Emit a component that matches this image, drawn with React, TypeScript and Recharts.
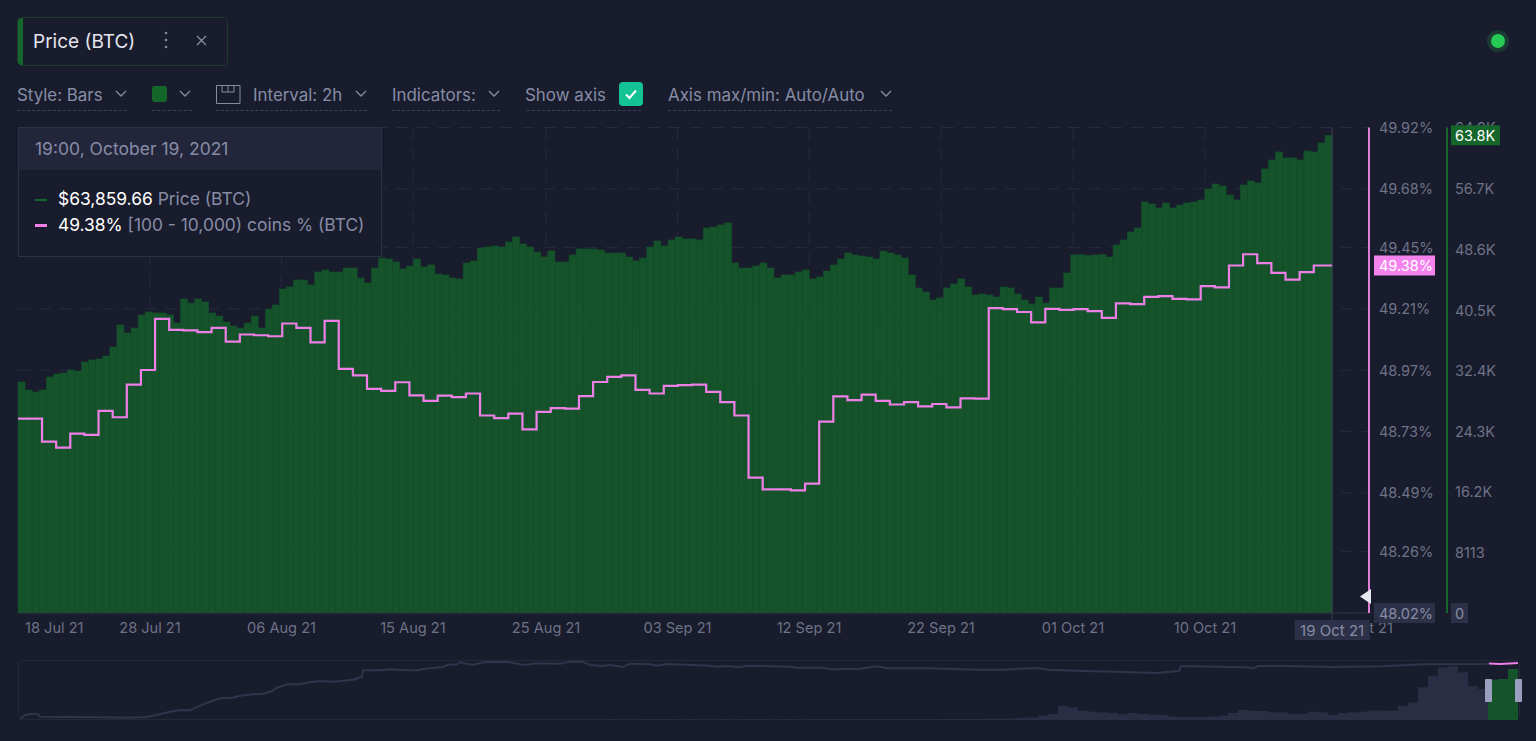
import React from 'react';
import { Bar, CartesianGrid, Cell, ComposedChart, Line, ReferenceLine, XAxis, YAxis } from 'recharts';

// btc price, one value per 12h
const priceValues = [
  30885, 29815, 29548, 29815, 31553, 31954, 32088, 32489, 32355, 33559,
  33826, 33960, 34361, 35564, 38506, 37436, 38105, 39843, 40244, 40110,
  40110, 39843, 38773, 41982, 41447, 41982, 41581, 40110, 39709, 38907,
  38372, 38105, 38773, 39709, 38105, 40645, 41180, 43319, 43586, 44522,
  44522, 43854, 45592, 45859, 45592, 45592, 46127, 46127, 44790, 44121,
  46127, 47464, 47330, 46929, 45993, 46394, 47330, 46260, 46528, 45324,
  45191, 44790, 44656, 46795, 47062, 48801, 48934, 49068, 48934, 49603,
  50271, 49335, 48934, 48266, 47597, 48399, 46929, 46929, 47865, 48667,
  48667, 48667, 48533, 48132, 48132, 48132, 47597, 47062, 47464, 48934,
  49736, 49068, 49870, 50271, 50004, 50004, 49870, 51475, 51608, 51876,
  52143, 46795, 46127, 46127, 46394, 46795, 46127, 44790, 45191, 45191,
  45592, 45859, 44656, 44923, 45725, 46528, 47330, 48132, 47865, 47731,
  47597, 47330, 48399, 48132, 47865, 47464, 45191, 43453, 42918, 41848,
  42116, 43453, 43987, 44656, 43586, 42517, 42650, 42517, 42249, 43586,
  43453, 42650, 41848, 41313, 42249, 41447, 43453, 43453, 45458, 47865,
  47900, 47790, 47865, 47950, 47597, 49202, 49870, 50940, 51475, 54951,
  54683, 54149, 54817, 54149, 54550, 54817, 54951, 55218, 56689, 57357,
  57090, 55887, 55218, 57224, 57758, 57491, 59363, 60566, 61636, 60834,
  60834, 60566, 61769, 61636, 62839, 63859,
];

// [100 - 10,000] coins %, one value per day
const coinsShare = [
  48.781, 48.691, 48.667, 48.722, 48.717, 48.811, 48.786, 48.914, 48.971, 49.171,
  49.128, 49.126, 49.119, 49.136, 49.082, 49.11, 49.107, 49.103, 49.153, 49.136,
  49.079, 49.163, 48.975, 48.95, 48.897, 48.889, 48.923, 48.872, 48.85, 48.871,
  48.865, 48.879, 48.793, 48.783, 48.8, 48.739, 48.807, 48.822, 48.82, 48.869,
  48.924, 48.944, 48.95, 48.893, 48.879, 48.909, 48.912, 48.914, 48.885, 48.845,
  48.793, 48.55, 48.504, 48.504, 48.5, 48.526, 48.769, 48.868, 48.853, 48.875,
  48.85, 48.836, 48.845, 48.829, 48.838, 48.825, 48.86, 48.859, 49.213, 49.209,
  49.198, 49.157, 49.21, 49.206, 49.209, 49.201, 49.175, 49.232, 49.229, 49.257,
  49.26, 49.249, 49.247, 49.299, 49.294, 49.38, 49.424, 49.389, 49.351, 49.325,
  49.354, 49.38,
];

const firstStepDays = 1.7;
const lastDay = 93;

const xTickDays = [0, 9.34, 18.65, 27.95, 37.37, 46.67, 55.98, 65.32, 74.66, 84, 95.1];
const xTickLabels = [
  '18 Jul 21', '28 Jul 21', '06 Aug 21', '15 Aug 21', '25 Aug 21', '03 Sep 21',
  '12 Sep 21', '22 Sep 21', '01 Oct 21', '10 Oct 21', '19 Oct 21',
];
const cursorLabel = '19 Oct 21';

const shareTicks = [48.02, 48.26, 48.49, 48.73, 48.97, 49.21, 49.45, 49.68, 49.92];
const priceTicks = [0, 8113, 16200, 24300, 32400, 40500, 48600, 56700, 64900];
const currentShare = 49.38;
const currentPrice = 63859;

// navigator: history of the share line [slot, value] and of the price bars
const navLine = [
  [0.2, 1], [0.7, 5], [1.5, 6.3], [2, 5.7], [2.2, 3.3], [4.9, 3], [8.2, 2.7], [10.9, 2.3],
  [12.9, 3], [14.2, 5.7], [15.2, 8.3], [16.2, 10], [17.2, 9.7], [18.2, 14.3], [19.2, 18.3],
  [20.2, 21.7], [21.5, 22.3], [22.2, 24.3], [23.5, 25.7], [24.5, 26.3], [25.4, 29], [25.9, 32.3],
  [26.9, 35.7], [28.2, 35.7], [29.2, 37.7], [30.2, 39], [31.5, 38.3], [33.5, 40.3], [34.4, 43],
  [34.5, 49.7], [36.2, 49.7], [37.2, 50.7], [38.5, 50], [39.9, 49.7], [40.5, 51], [42.5, 53],
  [42.9, 55], [43.9, 55.7], [44.2, 57.7], [45.5, 55], [46.5, 57.7], [48.2, 58.3], [49.2, 57.7],
  [50.5, 55], [51.9, 56.7], [54.2, 56.3], [55.2, 58.3], [56.4, 58.3], [57.2, 55], [58.5, 54],
  [59.2, 55], [60.5, 53], [61.2, 56.3], [63.2, 55.7], [63.9, 54.3], [64.9, 56], [69.2, 54.3],
  [69.9, 53.3], [70.9, 54], [72.2, 52.7], [72.9, 54.3], [77.2, 53.3], [77.9, 52.3], [80.5, 52.3],
  [81.4, 50.7], [82.5, 51], [84.2, 51.3], [85.9, 53.7], [86.9, 51.7], [91.2, 51.7], [95.9, 50.3],
  [98.5, 50.3], [101.2, 51.7], [102.1, 51.7], [103.1, 50.3], [106.5, 49], [109.8, 48.3],
  [113.8, 47], [116.1, 49], [116.3, 54], [119.8, 53.3], [122.8, 52.7], [123.6, 51.7], [124, 54],
  [126.5, 54], [131.5, 53], [136.5, 53.7], [140.5, 55.7], [146.5, 56], [147.1, 56.3],
];
const navShareWindow = [[147.1, 56.5], [148.2, 56], [149.2, 56.5], [150, 57]];

const navFirstSlot = 57;
const navPrices = [
  400, 450, 500, 450, 420, 480, 500, 520, 480, 450, 430, 420, 400, 430, 450, 500, 520, 480, 450, 430,
  440, 450, 480, 500, 520, 560, 600, 640, 620, 580, 600, 650, 700, 760, 820, 900, 1000, 1100, 1250, 1400,
  1600, 1750, 1935, 2709, 3096, 5031, 6966, 16641, 14706, 10836, 9675, 8901, 8127, 6579, 8127, 6966,
  6192, 5805, 3870, 3483, 3483, 3483, 3870, 5031, 8127, 11610, 10836, 10449, 8901, 8901, 7353, 7353,
  9675, 8901, 5805, 8127, 8901, 9675, 11223, 11223, 10836, 16641, 20511, 37926, 51471, 61146, 62307,
  55341, 39087, 35991, 46827, 47601, 59211,
];
const navWindowStart = 147;

const priceRows = priceValues.map((price, i) => ({ day: (i + 0.5) / 2, price }));
const shareRows = [
  ...coinsShare.map((share, i) => ({ day: i === 0 ? 0 : firstStepDays + i - 1, share })),
  { day: lastDay, share: coinsShare[coinsShare.length - 1] },
];
const navBarRows = navPrices.map((price, i) => ({ slot: navFirstSlot + i + 0.5, price, index: navFirstSlot + i }));
const navLineRows = navLine.map(([slot, share]) => ({ slot, share }));
const navWindowRows = navShareWindow.map(([slot, share]) => ({ slot, share }));

const FONT = 'Inter, "Noto Sans", sans-serif';
const BG = '#191c2c';
const GREEN = '#15532b';
const GREEN_LINE = '#15662b';
const PINK = '#ee7fe6';
const MUTED = '#6d7288';
const TEXT = '#878ca6';
const BOX = '#2d3148';

const priceLabel = (v: number) => {
  if (v === currentPrice) return '63.8K';
  if (v < 10000) return String(v);
  return `${(v / 1000).toFixed(1)}K`;
};

// recharts shrinks bars on a number axis, so widen them around their centre
const wideBar = (size: number, seam?: string) => ({ x, y, width, height, fill }: any) => (
  <rect x={x + width / 2 - size / 2} y={y} width={size} height={height} fill={fill} stroke={seam} strokeWidth={seam ? 0.5 : 0} />
);

const XTick = ({ x, y, payload, index }: any) => {
  if (payload.value === lastDay) {
    return (
      <g>
        <line x1={x} x2={x} y1={y - 8} y2={y} stroke="#3a3e55" />
        <rect x={x - 37.5} y={y - 1} width={75} height={20} fill={BOX} />
        <text x={x} y={y + 9} textAnchor="middle" dominantBaseline="central" fill={TEXT} fontSize={15} fontFamily={FONT}>
          {cursorLabel}
        </text>
      </g>
    );
  }
  return (
    <text
      x={index === 0 ? x + 7 : x}
      y={y + 7}
      textAnchor={index === 0 ? 'start' : 'middle'}
      dominantBaseline="central"
      fill={MUTED}
      fontSize={14.6}
      fontFamily={FONT}
    >
      {xTickLabels[xTickDays.indexOf(payload.value)]}
    </text>
  );
};

const ShareTick = ({ x, y, payload }: any) => {
  const v = payload.value;
  const current = v === currentShare;
  const floor = v === shareTicks[0];
  return (
    <g>
      {(current || floor) && <rect x={x - 5} y={y - 10} width={61} height={20} fill={current ? '#f583ee' : BOX} />}
      <text x={x} y={y} dominantBaseline="central" fill={current ? '#fff' : floor ? TEXT : MUTED} fontSize={14.5} fontFamily={FONT}>
        {v.toFixed(2)}%
      </text>
    </g>
  );
};

const PriceTick = ({ x, y, payload }: any) => {
  const v = payload.value;
  const current = v === currentPrice;
  return (
    <g>
      {current && <rect x={x - 4} y={y - 10} width={49} height={20} fill={GREEN_LINE} />}
      {v === 0 && <rect x={x - 4} y={y - 10} width={17} height={20} fill={BOX} />}
      <text x={x} y={y} dominantBaseline="central" fill={current ? '#fff' : v === 0 ? TEXT : MUTED} fontSize={14.5} fontFamily={FONT}>
        {priceLabel(v)}
      </text>
    </g>
  );
};

const Chevron = ({ x, y }: { x: number; y: number }) => (
  <svg style={{ position: 'absolute', left: x, top: y }} width={12} height={8}>
    <path d="M1 1 L6 6 L11 1" fill="none" stroke={TEXT} strokeWidth={1.3} />
  </svg>
);

const Label = ({ x, y, children }: any) => (
  <div style={{ position: 'absolute', left: x, top: y, height: 22, lineHeight: '22px', color: TEXT, fontSize: 16.9, whiteSpace: 'nowrap' }}>
    {children}
  </div>
);

const Dashed = ({ x, w }: { x: number; w: number }) => (
  <div style={{ position: 'absolute', left: x, top: 110, width: w, borderTop: '1px dashed #3c4058' }} />
);

const Toolbar = () => (
  <>
    <div style={{ position: 'absolute', left: 17, top: 17, width: 209, height: 47, border: '1px solid #1c3a2c', borderRadius: 5, overflow: 'hidden' }}>
      <div style={{ position: 'absolute', left: 0, top: 0, width: 5, height: 47, background: GREEN_LINE }} />
    </div>
    <div style={{ position: 'absolute', left: 33, top: 30, color: '#e4e6ef', fontSize: 19, lineHeight: '24px' }}>Price (BTC)</div>
    <svg style={{ position: 'absolute', left: 160, top: 30 }} width={52} height={22}>
      <circle cx={6} cy={3} r={1.3} fill={TEXT} />
      <circle cx={6} cy={10} r={1.3} fill={TEXT} />
      <circle cx={6} cy={17} r={1.3} fill={TEXT} />
      <path d="M37 6 L46 15 M46 6 L37 15" stroke={TEXT} strokeWidth={1.3} />
    </svg>

    <Label x={17} y={84}>Style: Bars</Label>
    <Chevron x={115} y={90} />
    <Dashed x={17} w={110} />
    <div style={{ position: 'absolute', left: 152, top: 86, width: 15, height: 16, borderRadius: 3, background: GREEN_LINE }} />
    <Chevron x={179} y={90} />
    <Dashed x={152} w={40} />
    <svg style={{ position: 'absolute', left: 216, top: 85 }} width={25} height={20}>
      <path d="M0.5 0.5 H24 V18.5 H0.5 Z M6 0.5 V7 H12 V0.5 M12 7 H18 V0.5" fill="none" stroke={TEXT} strokeWidth={1} />
    </svg>
    <Label x={253} y={84}>Interval: 2h</Label>
    <Chevron x={355} y={90} />
    <Dashed x={216} w={151} />
    <Label x={392} y={84}>Indicators:</Label>
    <Chevron x={488} y={90} />
    <Dashed x={392} w={108} />
    <Label x={525} y={84}>Show axis</Label>
    <Dashed x={527} w={114} />
    <div style={{ position: 'absolute', left: 619, top: 82, width: 24, height: 24, borderRadius: 4, background: '#14c393' }}>
      <svg width={24} height={24}>
        <path d="M7 12.5 L10.5 16 L17 8.5" fill="none" stroke="#fff" strokeWidth={2} />
      </svg>
    </div>
    <Label x={668} y={84}>Axis max/min: Auto/Auto</Label>
    <Chevron x={880} y={90} />
    <Dashed x={668} w={224} />

    <div style={{ position: 'absolute', left: 1491, top: 34, width: 14, height: 14, borderRadius: 7, background: '#26c953', boxShadow: '0 0 0 4px rgba(38,201,83,0.18)' }} />
  </>
);

const ChartTooltip = () => (
  <div style={{ position: 'absolute', left: 18, top: 127, width: 362, height: 128, background: BG, border: '1px solid #2d3048', boxSizing: 'content-box' }}>
    <div style={{ height: 42, background: '#23263b', color: TEXT, fontSize: 17.5, lineHeight: '42px', paddingLeft: 16 }}>
      19:00, October 19, 2021
    </div>
    <div style={{ position: 'absolute', left: 16, top: 71, width: 12, height: 2, background: GREEN_LINE }} />
    <div style={{ position: 'absolute', left: 39, top: 60, fontSize: 17.4, lineHeight: '22px', color: TEXT, whiteSpace: 'nowrap' }}>
      <span style={{ color: '#fff' }}>$63,859.66</span> Price (BTC)
    </div>
    <div style={{ position: 'absolute', left: 16, top: 96, width: 12, height: 3, background: PINK }} />
    <div style={{ position: 'absolute', left: 39, top: 86, fontSize: 17.4, lineHeight: '22px', color: TEXT, whiteSpace: 'nowrap' }}>
      <span style={{ color: '#fff' }}>49.38%</span> [100 - 10,000) coins % (BTC)
    </div>
  </div>
);

const MainChart = () => (
  <div style={{ position: 'absolute', left: 0, top: 0 }}>
    <ComposedChart width={1536} height={741} data={priceRows} margin={{ top: 127.5, right: 0, bottom: 98, left: 18 }}>
      <CartesianGrid
        yAxisId="coins"
        stroke="#282b3f"
        strokeDasharray="12 9"
        horizontalValues={shareTicks}
        verticalValues={xTickDays.slice(1, -1)}
      />
      <XAxis
        dataKey="day"
        type="number"
        domain={[0, 95.61]}
        ticks={[...xTickDays, lastDay]}
        interval={0}
        height={30}
        stroke="#2f3349"
        tickLine={false}
        tick={<XTick />}
      />
      <YAxis
        yAxisId="coins"
        orientation="right"
        width={78}
        domain={[48.02, 49.92]}
        ticks={[...shareTicks, currentShare]}
        interval={0}
        axisLine={{ stroke: '#dd7dd6', strokeWidth: 2 }}
        tickLine={false}
        tickSize={6}
        tickMargin={4}
        tick={<ShareTick />}
      />
      <YAxis
        yAxisId="price"
        orientation="right"
        width={89}
        domain={[0, 64900]}
        ticks={[...priceTicks, currentPrice]}
        interval={0}
        axisLine={{ stroke: GREEN_LINE, strokeWidth: 2 }}
        tickLine={false}
        tick={<PriceTick />}
      />
      <Bar yAxisId="price" dataKey="price" fill={GREEN} shape={wideBar(7.1, '#144e29')} isAnimationActive={false} />
      <ReferenceLine yAxisId="price" x={lastDay} stroke="#3a3e55" />
      <Line
        yAxisId="coins"
        data={shareRows}
        dataKey="share"
        type="stepAfter"
        stroke={PINK}
        strokeWidth={2.2}
        dot={false}
        isAnimationActive={false}
      />
    </ComposedChart>
  </div>
);

const Navigator = () => (
  <>
    <div style={{ position: 'absolute', left: 18, top: 660, width: 1502, height: 60, border: '1px solid #252839', borderRadius: 6, boxSizing: 'border-box' }} />
    <div style={{ position: 'absolute', left: 0, top: 660 }}>
      <ComposedChart width={1536} height={60} data={navBarRows} margin={{ top: 0, right: 18, bottom: 0, left: 18 }}>
        <XAxis dataKey="slot" type="number" domain={[0, 150]} hide />
        <YAxis yAxisId="bars" domain={[0, 69660]} hide />
        <YAxis yAxisId="line" domain={[0, 60]} hide />
        <Bar yAxisId="bars" dataKey="price" shape={wideBar(10.1)} isAnimationActive={false}>
          {navBarRows.map((row) => (
            <Cell key={row.slot} fill={row.index >= navWindowStart ? GREEN : '#2a2e44'} />
          ))}
        </Bar>
        <Line yAxisId="line" data={navLineRows} dataKey="share" stroke="#30344c" strokeWidth={2} dot={false} isAnimationActive={false} />
        <Line yAxisId="line" data={navWindowRows} dataKey="share" stroke={PINK} strokeWidth={2} dot={false} isAnimationActive={false} />
      </ComposedChart>
    </div>
    <div style={{ position: 'absolute', left: 1485, top: 679, width: 7, height: 23, background: '#9a9fc0', borderRadius: 1 }} />
    <div style={{ position: 'absolute', left: 1515, top: 679, width: 7, height: 23, background: '#9a9fc0', borderRadius: 1 }} />
  </>
);

export default function App() {
  return (
    <div style={{ position: 'fixed', left: 0, top: 0, width: 1536, height: 741, background: BG, overflow: 'hidden', fontFamily: FONT }}>
      <Toolbar />
      <MainChart />
      <div style={{ position: 'absolute', left: 390, top: 240, fontSize: 150, fontWeight: 500, color: 'rgba(255,255,255,0.008)', pointerEvents: 'none' }}>
        santiment
      </div>
      <ChartTooltip />
      <svg style={{ position: 'absolute', left: 1360, top: 589 }} width={12} height={15}>
        <path d="M0 7.5 L11 0 V15 Z" fill="#e8e9f0" />
      </svg>
      <Navigator />
    </div>
  );
}
